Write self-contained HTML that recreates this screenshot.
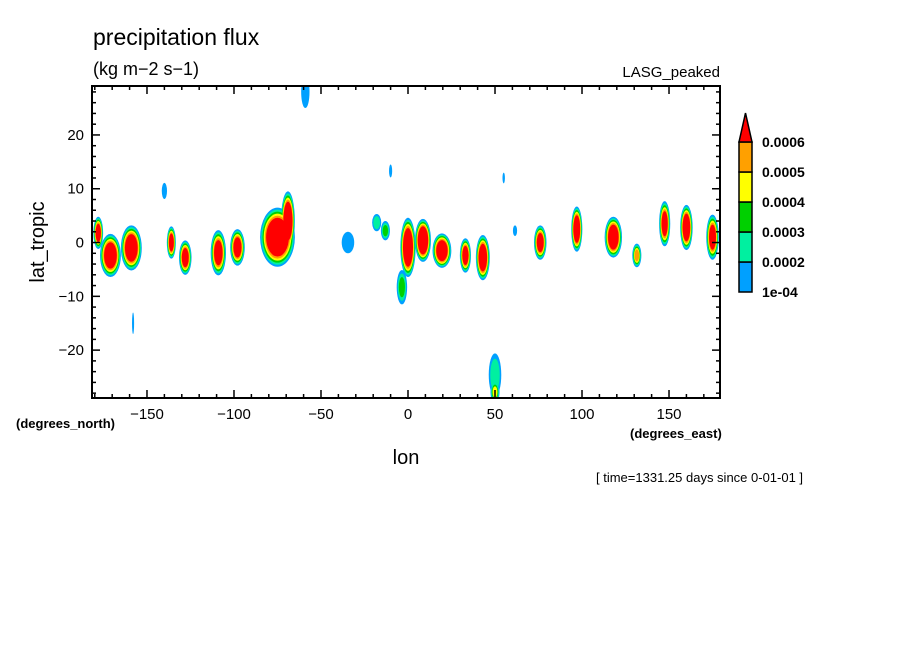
<!DOCTYPE html>
<html><head><meta charset="utf-8"><style>
body{margin:0;background:#fff;}
svg{display:block;font-family:"Liberation Sans",sans-serif;}
</style></head><body>
<svg id="chart" width="904" height="654">
<text x="93" y="45" font-size="23">precipitation flux</text>
<text x="93" y="75" font-size="18">(kg m−2 s−1)</text>
<text x="720" y="77" font-size="15" text-anchor="end">LASG_peaked</text>
<defs><clipPath id="pc"><rect x="92" y="86" width="628" height="312"/></clipPath></defs>
<g id="marks" clip-path="url(#pc)"></g>
<g id="axes"></g>
<text x="406" y="464" font-size="20" text-anchor="middle">lon</text>
<text x="44" y="242" font-size="20" text-anchor="middle" transform="rotate(-90 44 242)">lat_tropic</text>
<text x="16" y="428" font-size="13" font-weight="bold">(degrees_north)</text>
<text x="630" y="438" font-size="13" font-weight="bold">(degrees_east)</text>
<text x="596" y="482" font-size="13">[ time=1331.25 days since 0-01-01 ]</text>
<g id="cbar"></g>
</svg>
<script>
const blobLon  = [-178,-171,-159,-136,-140,-128,-109,-98,-75,-69,-34.5,-18,-13,-3.5,0,8.6,19.5,33,43,61.5,76,97,118,131.5,147.5,160,175,-59,-10,55,50,50,-158];
const blobLat  = [1.8,-2.4,-1,0,9.6,-2.8,-1.9,-0.9,1,4,0,3.7,2.2,-8.3,-0.9,0.4,-1.5,-2.4,-2.8,2.2,0,2.5,1,-2.4,3.5,2.8,1,28,13.3,12,-24.6,-27.8,-15];
const blobRx   = [2.8,6,6,2.6,1.5,3.6,4.4,4.2,10,4,3.6,2.6,2.6,3,4.4,4.6,5.4,3.2,4,1.2,3.6,3.2,5,2.6,3.2,3.6,3.6,2.4,0.9,0.7,3.6,2.6,0.6];
const blobRy   = [3,4,4.2,3,1.5,3.2,4.2,3.4,5.5,5.5,2,1.6,1.8,3.2,5.5,4,3.2,3.2,4.2,1,3.2,4.2,3.8,2.2,4.2,4.2,4.2,3,1.2,1,4,2,2];
const blobPeak = [7,8,8,7,1.5,7,7,7,9,9,1.5,2.5,3,3,9,9,8,7,8,1.3,7,8,8,5,7,8,7,1.5,1.2,1.2,2.5,4,1.2];
const levelColors = ["#00a0ff","#00f0a0","#00d000","#ffff00","#ffa000","#ff0000"];
const cbarLabels = ["1e-04","0.0002","0.0003","0.0004","0.0005","0.0006"];
const xTicks = [-150,-100,-50,0,50,100,150];
const yTicks = [-20,-10,0,10,20];

const NS="http://www.w3.org/2000/svg";
const X0=92,X1=720,Y0=86,Y1=398,LON0=-181.6,LON1=179.3,LAT0=-28.9,LAT1=29.1;
const sx=v=>X0+(v-LON0)/(LON1-LON0)*(X1-X0);
const sy=v=>Y1-(v-LAT0)/(LAT1-LAT0)*(Y1-Y0);
const pxLon=(X1-X0)/(LON1-LON0), pxLat=(Y1-Y0)/(LAT1-LAT0);
function mk(tag,attrs,parent){const e=document.createElementNS(NS,tag);for(const k in attrs)e.setAttribute(k,attrs[k]);parent.appendChild(e);return e;}

const marks=document.getElementById('marks');
for(let k=1;k<=6;k++){
  for(let i=0;i<blobLon.length;i++){
    const p=blobPeak[i]; if(p<k) continue;
    const f=1-0.62*(k-1)/p;
    const e=mk('ellipse',{cx:sx(blobLon[i]),cy:sy(blobLat[i]),rx:blobRx[i]*pxLon*f,ry:blobRy[i]*pxLat*f,fill:levelColors[k-1]},marks);
    
    
  }
}

const axes=document.getElementById('axes');
const fr=mk('rect',{x:X0,y:Y0,width:X1-X0,height:Y1-Y0,fill:'none',stroke:'#000','stroke-width':2},axes);


for(let v=-180;v<=180;v+=10){
  const x=sx(v); if(x<X0||x>X1) continue;
  const L=(v%50===0)?8:4;
  mk('line',{x1:x,y1:Y1,x2:x,y2:Y1-L,stroke:'#000','stroke-width':1.5},axes);
  mk('line',{x1:x,y1:Y0,x2:x,y2:Y0+L,stroke:'#000','stroke-width':1.5},axes);
}
for(let v=-28;v<=28;v+=2){
  const y=sy(v); const L=(v%10===0)?8:4;
  mk('line',{x1:X0,y1:y,x2:X0+L,y2:y,stroke:'#000','stroke-width':1.5},axes);
  mk('line',{x1:X1,y1:y,x2:X1-L,y2:y,stroke:'#000','stroke-width':1.5},axes);
}
xTicks.forEach(v=>{
  const t=mk('text',{x:sx(v),y:Y1+21,'font-size':15,'text-anchor':'middle'},axes);
  t.textContent=(v<0?'\u2212'+(-v):v);
  
  
});
yTicks.forEach(v=>{
  const t=mk('text',{x:X0-8,y:sy(v)+5,'font-size':15,'text-anchor':'end'},axes);
  t.textContent=(v<0?'\u2212'+(-v):v);
  
  
});

const cb=document.getElementById('cbar');
const CX=739,CW=13,CB=292,CH=30;
for(let k=0;k<5;k++){
  const r=mk('rect',{x:CX,y:CB-(k+1)*CH,width:CW,height:CH,fill:levelColors[k],stroke:'#000','stroke-width':1.5},cb);
  
  
}
const tri=mk('polygon',{points:`${CX},${CB-5*CH} ${CX+CW},${CB-5*CH} ${CX+CW/2},113`,fill:levelColors[5],stroke:'#000','stroke-width':1.5},cb);


cbarLabels.forEach((s,k)=>{
  const t=mk('text',{x:762,y:CB-k*CH+5,'font-size':14,'font-weight':'bold'},cb);
  t.textContent=s;
  
  
});
</script>
</body></html>
